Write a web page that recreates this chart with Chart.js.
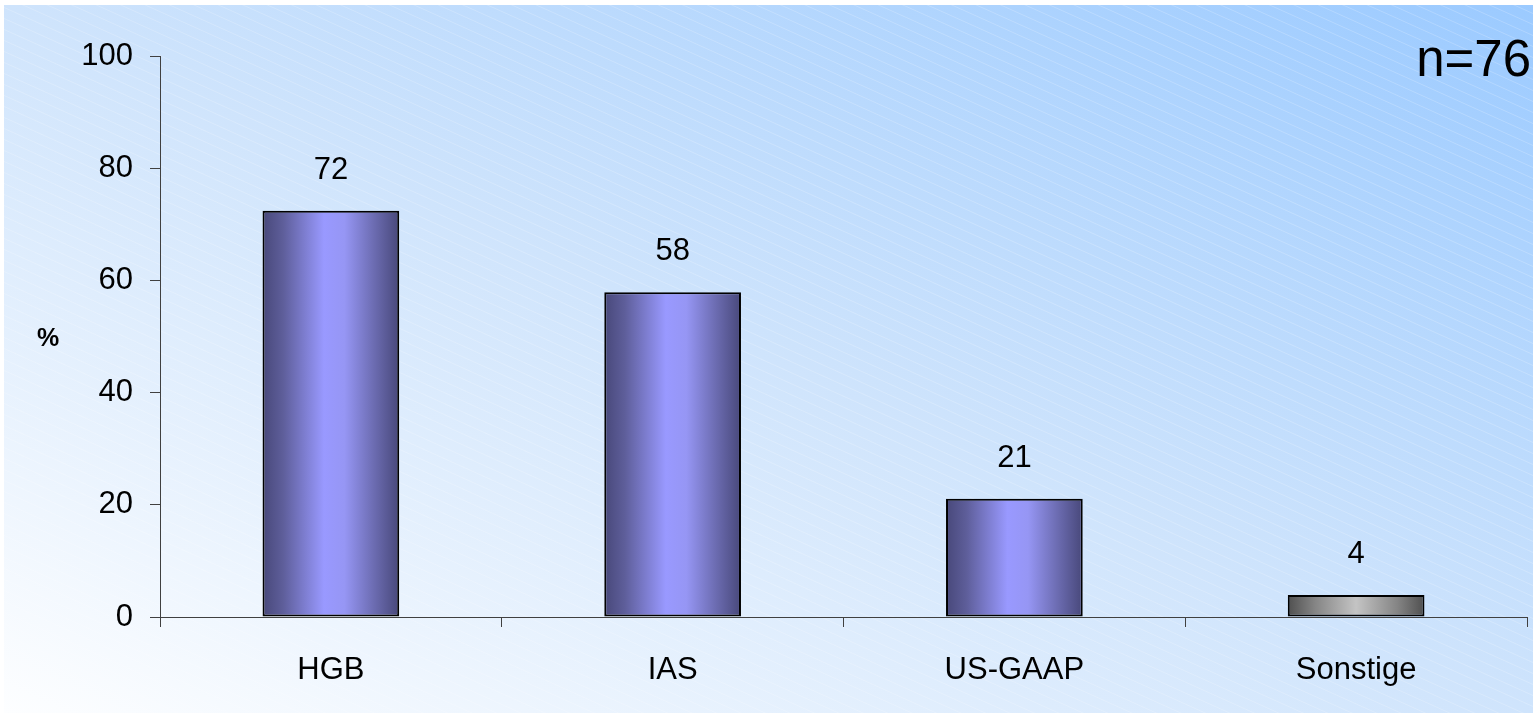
<!DOCTYPE html>
<html>
<head>
<meta charset="utf-8">
<script src="https://cdn.jsdelivr.net/npm/chart.js@4/dist/chart.umd.min.js"></script>
<style>
  html, body { margin: 0; padding: 0; background: #ffffff; }
  #wrap { width: 1533px; height: 716px; position: relative; }
</style>
</head>
<body>
<div id="wrap"><canvas id="c" width="1533" height="716"></canvas></div>
<script>
// ---- data ----
const categories = ['HGB', 'IAS', 'US-GAAP', 'Sonstige'];
const values = [72.4, 57.9, 21.1, 3.9];
const valueLabels = ['72', '58', '21', '4'];
const yTicks = [0, 20, 40, 60, 80, 100];
const sampleNote = 'n=76';
const yUnit = '%';

const FONT = '"Liberation Sans", Arial, sans-serif';

function barGradient(ctx, left, right, grey) {
  const g = ctx.createLinearGradient(left, 0, right, 0);
  if (grey) {
    g.addColorStop(0, '#4f4f4f');
    g.addColorStop(0.2, '#858585');
    g.addColorStop(0.5, '#c4c4c4');
    g.addColorStop(0.8, '#858585');
    g.addColorStop(1, '#4f4f4f');
  } else {
    g.addColorStop(0, '#48487a');
    g.addColorStop(0.15, '#5e5e9a');
    g.addColorStop(0.45, '#9999ff');
    g.addColorStop(0.6, '#9696f4');
    g.addColorStop(0.82, '#6b6bb0');
    g.addColorStop(1, '#48487a');
  }
  return g;
}

const bgPlugin = {
  id: 'bg',
  beforeDraw(chart) {
    const ctx = chart.ctx;
    const W = chart.width, H = chart.height;
    ctx.save();
    ctx.fillStyle = '#ffffff';
    ctx.fillRect(0, 0, W, H);
    const x0 = 4, y0 = 5, w = W - x0, h = H - y0 - 3;
    const s = 2 * w * h / (h * h + w * w);
    const sx = x0, sy = y0 + h;
    const g = ctx.createLinearGradient(sx, sy, sx + s * h, sy - s * w);
    g.addColorStop(0, '#fdfeff');
    g.addColorStop(0.5, '#cfe4fc');
    g.addColorStop(1, '#9bcaff');
    ctx.fillStyle = g;
    ctx.fillRect(x0, y0, w, h);
    ctx.beginPath();
    ctx.rect(x0, y0, w, h);
    ctx.clip();
    ctx.strokeStyle = 'rgba(255,255,255,0.2)';
    ctx.lineWidth = 1;
    const slope = 0.45, gap = 11;
    ctx.beginPath();
    for (let b = -w * slope - 20; b < H + 20; b += gap) {
      ctx.moveTo(x0, b + 0.5);
      ctx.lineTo(x0 + w, b + w * slope + 0.5);
    }
    ctx.stroke();
    ctx.restore();
  }
};

const gradPlugin = {
  id: 'barGrad',
  beforeDatasetsDraw(chart) {
    const meta = chart.getDatasetMeta(0);
    meta.data.forEach((bar, i) => {
      const half = bar.width / 2;
      const opts = Object.assign({}, bar.options);
      opts.backgroundColor = barGradient(chart.ctx, bar.x - half, bar.x + half, i === 3);
      bar.options = opts;
    });
  }
};

const labelPlugin = {
  id: 'labels',
  afterDatasetsDraw(chart) {
    const ctx = chart.ctx;
    const meta = chart.getDatasetMeta(0);
    ctx.save();
    ctx.fillStyle = '#000000';
    ctx.font = '31px ' + FONT;
    ctx.textAlign = 'center';
    ctx.textBaseline = 'alphabetic';
    meta.data.forEach((bar, i) => {
      ctx.fillText(valueLabels[i], bar.x, bar.y - 32);
    });
    ctx.font = 'bold 25px ' + FONT;
    ctx.textAlign = 'center';
    ctx.textBaseline = 'middle';
    ctx.fillText(yUnit, 48, 339);
    ctx.font = '51px ' + FONT;
    ctx.textAlign = 'right';
    ctx.textBaseline = 'alphabetic';
    ctx.fillText(sampleNote, 1531, 76);
    ctx.restore();
  }
};

const ctx = document.getElementById('c').getContext('2d');
new Chart(ctx, {
  type: 'bar',
  data: {
    labels: categories,
    datasets: [{
      data: values,
      backgroundColor: '#9999ff',
      borderColor: '#000000',
      borderWidth: 2,
      borderSkipped: false,
      categoryPercentage: 1.0,
      barPercentage: 0.4
    }]
  },
  options: {
    responsive: false,
    animation: false,
    devicePixelRatio: 1,
    layout: { padding: { left: 0, top: 56, right: 6, bottom: 0 } },
    plugins: { legend: { display: false }, tooltip: { enabled: false } },
    scales: {
      y: {
        min: 0, max: 100,
        afterFit: (s) => { s.width = 160; },
        afterBuildTicks: (s) => { s.ticks = yTicks.map(v => ({ value: v })); },
        ticks: { color: '#000000', font: { family: FONT, size: 31 }, padding: 17 },
        grid: { drawOnChartArea: false, drawTicks: true, tickLength: 10, tickColor: '#404040', lineWidth: 1 },
        border: { display: true, color: '#404040', width: 1 }
      },
      x: {
        afterFit: (s) => { s.height = 99; },
        ticks: { color: '#000000', font: { family: FONT, size: 31 }, padding: 25 },
        grid: { offset: true, drawOnChartArea: false, drawTicks: true, tickLength: 10, tickColor: '#404040', lineWidth: 1 },
        border: { display: true, color: '#404040', width: 1 }
      }
    }
  },
  plugins: [bgPlugin, gradPlugin, labelPlugin]
});
</script>
</body>
</html>
